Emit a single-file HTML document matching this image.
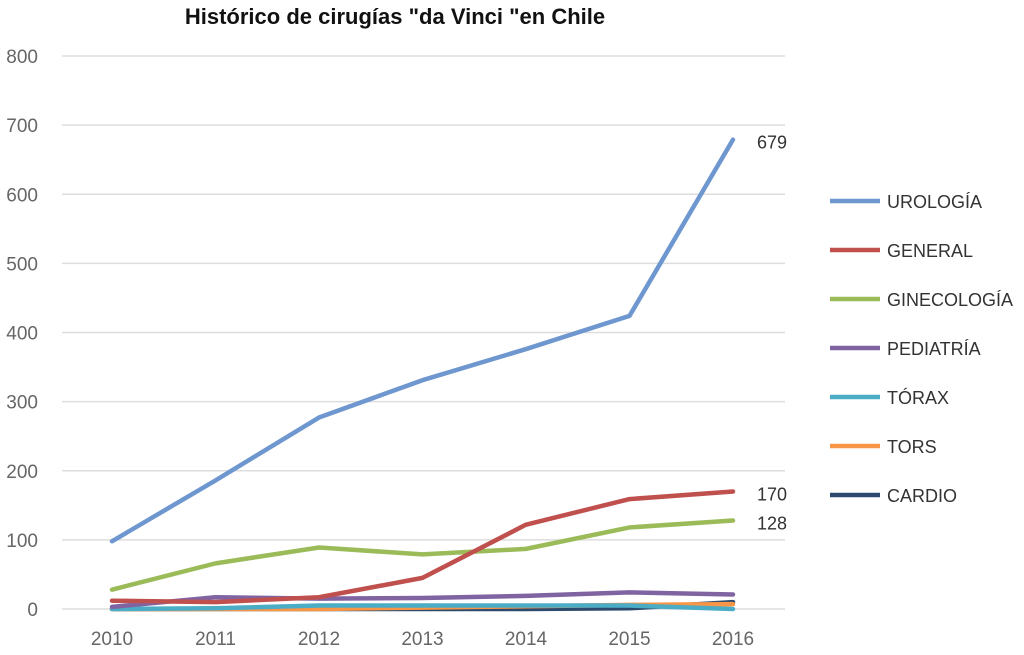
<!DOCTYPE html><html><head><meta charset="utf-8"><style>body{margin:0;background:#fff}svg{font-family:"Liberation Sans","DejaVu Sans",sans-serif}</style></head><body>
<svg id="c" width="1024" height="650"></svg>
<script>
const years=["2010","2011","2012","2013","2014","2015","2016"];
const yTicks=[0,100,200,300,400,500,600,700,800];
const urologia=[98,186,277,331,376,424,679];
const general=[12,10,17,45,122,159,170];
const ginecologia=[28,66,89,79,87,118,128];
const pediatria=[3,17,15,16,19,24,21];
const torax=[0,1,5,5,5,5,0];
const tors=[0,0,0,2,4,6,7];
const cardio=[0,0,0,0,0,1,10];
const seriesNames=["UROLOGÍA","GENERAL","GINECOLOGÍA","PEDIATRÍA","TÓRAX","TORS","CARDIO"];
const seriesData=[urologia,general,ginecologia,pediatria,torax,tors,cardio];
const colors=["#6f97cf","#c0504d","#9bbb59","#8064a2","#4bacc6","#f79646","#2c4a6e"];
const labelIdx=[0,1,2];
const svg=document.getElementById('c');const NS="http://www.w3.org/2000/svg";
function el(t,a,p){const e=document.createElementNS(NS,t);for(const k in a)e.setAttribute(k,a[k]);(p||svg).appendChild(e);return e;}
const x=i=>112+i*103.5;const y=v=>609-v*(553/800);
const t=el('text',{x:395,y:24,'text-anchor':'middle','font-size':22,'font-weight':'bold',fill:'#111'});t.textContent='Histórico de cirugías "da Vinci "en Chile';


yTicks.forEach(v=>{const g=el('line',{x1:62,x2:785,y1:y(v),y2:y(v),stroke:'#ddd','stroke-width':1.5});


const l=el('text',{x:38,y:y(v)+7,'text-anchor':'end','font-size':19,fill:'#666'});l.textContent=v;

});
years.forEach((yr,i)=>{const l=el('text',{x:x(i),y:645,'text-anchor':'middle','font-size':19,fill:'#666'});l.textContent=yr;

});
for(let s=seriesData.length-1;s>=0;s--){const d=seriesData[s];
const p=el('polyline',{points:d.map((v,i)=>x(i)+','+y(v)).join(' '),fill:'none',stroke:colors[s],'stroke-width':4.5,'stroke-linejoin':'round','stroke-linecap':'round'});

}
labelIdx.forEach(s=>{const v=seriesData[s][6];const l=el('text',{x:757,y:y(v)+9,'font-size':18,fill:'#333'});l.textContent=v;

});
seriesNames.forEach((n,i)=>{const yy=201+i*49;
const g=el('g',{});


el('line',{x1:830,x2:880,y1:yy,y2:yy,stroke:colors[i],'stroke-width':4.5},g);
const l=el('text',{x:887,y:yy+7,'font-size':18,fill:'#333'},g);l.textContent=n;});
</script></body></html>
